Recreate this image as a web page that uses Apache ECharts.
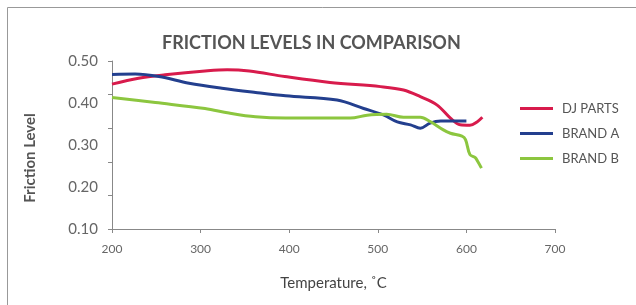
<!DOCTYPE html>
<html>
<head>
<meta charset="utf-8">
<script src="https://cdn.jsdelivr.net/npm/echarts@6/dist/echarts.min.js"></script>
<style>
    html, body { margin: 0; padding: 0; background: #fff; }
    #chart { width: 636px; height: 305px; }
</style>
</head>
<body>
<div id="chart"></div>
<script>
// values
var seriesNames = ['DJ PARTS', 'BRAND A', 'BRAND B'];
var xTicks = [200, 300, 400, 500, 600, 700];
var yTicks = [0.10, 0.20, 0.30, 0.40, 0.50];

var djTemp = [200, 230, 260, 305, 330, 355, 395, 446, 503, 529, 548, 567, 582, 593, 604, 612, 618];
var djLevel = [0.445, 0.459, 0.467, 0.476, 0.479, 0.476, 0.463, 0.449, 0.439, 0.431, 0.415, 0.395, 0.364, 0.348, 0.347, 0.355, 0.366];

var brandATemp = [200, 226, 253, 287, 324, 362, 396, 454, 484, 507, 522, 537, 548, 559, 571, 600];
var brandALevel = [0.468, 0.469, 0.463, 0.447, 0.435, 0.425, 0.417, 0.407, 0.387, 0.371, 0.355, 0.348, 0.340, 0.352, 0.357, 0.357];

var brandBTemp = [200, 249, 305, 332, 362, 396, 469, 488, 510, 529, 548, 559, 574, 582, 595, 599, 604, 610, 613, 617];
var brandBLevel = [0.413, 0.401, 0.387, 0.376, 0.367, 0.364, 0.364, 0.371, 0.373, 0.366, 0.366, 0.356, 0.336, 0.328, 0.321, 0.313, 0.277, 0.270, 0.260, 0.245];

var colors = ['#d81b4c', '#233f8e', '#8cc63f'];

function pairs(xs, ys) {
    return xs.map(function (x, i) { return [x, ys[i]]; });
}

var chart = echarts.init(document.getElementById('chart'));

function line(name, xs, ys, color) {
    return {
        name: name,
        type: 'line',
        data: pairs(xs, ys),
        smooth: 0.35,
        showSymbol: false,
        lineStyle: { width: 3, color: color },
        itemStyle: { color: color }
    };
}

var option = {
    animation: false,
    textStyle: { fontFamily: 'Lato' },
    title: {
        text: 'FRICTION LEVELS IN COMPARISON',
        left: 157,
        top: 29,
        textStyle: { fontSize: 18, fontWeight: 'bold', color: '#555' }
    },
    legend: {
        orient: 'vertical',
        left: 515,
        top: 97,
        icon: 'rect',
        itemWidth: 33,
        itemHeight: 3,
        itemGap: 12,
        data: seriesNames,
        textStyle: { fontSize: 13, color: '#555', padding: [0, 0, 0, 4] }
    },
    grid: { left: 112, right: 81, top: 61, bottom: 76 },
    xAxis: {
        type: 'value',
        min: xTicks[0],
        max: xTicks[xTicks.length - 1],
        interval: 100,
        name: 'Temperature, ˚C',
        nameLocation: 'middle',
        nameGap: 47,
        nameTextStyle: { fontSize: 15, color: '#444' },
        axisLine: { lineStyle: { color: '#888', width: 1 } },
        axisTick: { show: true, length: 4, lineStyle: { color: '#888' } },
        axisLabel: { fontSize: 12, color: '#666', margin: 14 },
        splitLine: { show: false }
    },
    yAxis: [{
        type: 'value',
        min: yTicks[0],
        max: yTicks[yTicks.length - 1],
        interval: 0.1,
        axisLine: { show: false },
        axisTick: { show: false },
        axisLabel: {
            fontSize: 15, color: '#666', margin: 14,
            formatter: function (v) { return v.toFixed(2); }
        },
        splitLine: { show: false }
    }, {
        // tick marks only, they don't line up with the labels in the source
        type: 'value',
        position: 'left',
        min: 0,
        max: 5,
        interval: 1,
        axisLine: { show: true, lineStyle: { color: '#888', width: 1 } },
        axisTick: { show: true, length: 4, lineStyle: { color: '#888' } },
        axisLabel: { show: false },
        splitLine: { show: false }
    }],
    graphic: [{
        type: 'rect',
        shape: { x: 7.5, y: 7.5, width: 700, height: 400 },
        style: { fill: 'none', stroke: '#999', lineWidth: 1 },
        silent: true
    }, {
        type: 'text',
        x: 30,
        y: 158,
        rotation: Math.PI / 2,
        style: {
            text: 'Friction Level',
            fontSize: 15,
            fontWeight: 'bold',
            fontFamily: 'Lato',
            fill: '#555',
            align: 'center',
            verticalAlign: 'middle'
        }
    }],
    series: [
        line(seriesNames[0], djTemp, djLevel, colors[0]),
        line(seriesNames[1], brandATemp, brandALevel, colors[1]),
        line(seriesNames[2], brandBTemp, brandBLevel, colors[2])
    ]
};

chart.setOption(option);
</script>
</body>
</html>
